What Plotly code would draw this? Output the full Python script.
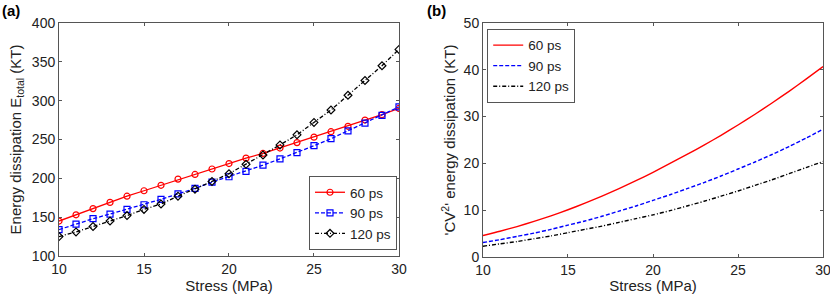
import plotly.graph_objects as go

stress = list(range(10, 31))
labels = ["60 ps", "90 ps", "120 ps"]

a_60 = [145, 153, 161, 169, 177, 184, 191, 199, 205, 212, 219, 226, 232, 239, 246, 253, 260, 267, 275, 282, 290]
a_90 = [134, 141, 148, 154, 160, 166, 173, 180, 187, 195, 202, 209, 217, 225, 233, 242, 251, 261, 271, 281, 292]
a_120 = [125, 131, 138, 145, 152, 160, 167, 177, 186, 196, 206, 218, 230, 243, 256, 272, 288, 307, 326, 345, 366]

b_60 = [4.6, 5.5, 6.5, 7.6, 8.8, 10.1, 11.5, 13.0, 14.6, 16.3, 18.1, 20.0, 21.9, 23.9, 26.0, 28.2, 30.5, 32.9, 35.4, 38.0, 40.7]
b_90 = [3.1, 3.7, 4.4, 5.1, 5.9, 6.8, 7.7, 8.7, 9.8, 10.9, 12.1, 13.3, 14.6, 15.9, 17.3, 18.8, 20.3, 21.9, 23.6, 25.4, 27.3]
b_120 = [2.3, 2.8, 3.3, 3.9, 4.5, 5.2, 5.9, 6.6, 7.4, 8.2, 9.0, 9.9, 10.9, 11.9, 13.0, 14.1, 15.3, 16.5, 17.8, 19.1, 20.4]

colors = ["#ff0000", "#0000ff", "#000000"]
dashes = ["solid", "4px,2px", "4px,2px,1px,2px"]
symbols = ["circle-open", "square-open", "diamond-open"]

FONT = "Liberation Sans, Arial, sans-serif"
fig = go.Figure()

for ys, lab, c, d, s in zip([a_60, a_90, a_120], labels, colors, dashes, symbols):
    fig.add_trace(go.Scatter(x=stress, y=ys, name=lab, mode="lines+markers",
                             line=dict(color=c, dash=d, width=1.3),
                             marker=dict(symbol=s, size=6, color=c, line=dict(width=1.2, color=c)),
                             xaxis="x", yaxis="y", legend="legend"))

for ys, lab, c, d in zip([b_60, b_90, b_120], labels, colors, dashes):
    fig.add_trace(go.Scatter(x=stress, y=ys, name=lab, mode="lines",
                             line=dict(color=c, dash=d, width=1.4, shape="spline", smoothing=0.6),
                             xaxis="x2", yaxis="y2", legend="legend2"))

axis_common = dict(showline=True, linecolor="#555555", linewidth=1, mirror="ticks",
                   ticks="inside", ticklen=3, tickcolor="#555555", showgrid=False, zeroline=False,
                   automargin=False, ticklabeloverflow="allow",
                   tickfont=dict(size=14, color="#222222", family=FONT))

fig.update_layout(
    width=830, height=294,
    margin=dict(l=0, r=0, t=0, b=0, autoexpand=False),
    paper_bgcolor="white", plot_bgcolor="white",
    font=dict(family=FONT, size=14, color="#222222"),
    xaxis=dict(domain=[0.0711, 0.4807], range=[10, 30], tickvals=[10, 15, 20, 25, 30],
               title=dict(text="Stress (MPa)", standoff=0, font=dict(size=15)), anchor="y", **axis_common),
    yaxis=dict(domain=[0.1293, 0.9218], range=[100, 400], tickvals=[100, 150, 200, 250, 300, 350, 400],
               title=dict(text="Energy dissipation E<sub>total</sub> (KT)", standoff=6, font=dict(size=15)),
               anchor="x", **axis_common),
    xaxis2=dict(domain=[0.5819, 0.9916], range=[10, 30], tickvals=[10, 15, 20, 25, 30],
                title=dict(text="Stress (MPa)", standoff=0, font=dict(size=15)), anchor="y2", **axis_common),
    yaxis2=dict(domain=[0.1259, 0.9218], range=[0, 50], tickvals=[0, 10, 20, 30, 40, 50],
                title=dict(text="'CV<sup>2</sup>' energy dissipation (KT)", standoff=4, font=dict(size=15)),
                anchor="x2", **axis_common),
    legend=dict(x=0.4783, y=0.1497, xanchor="right", yanchor="bottom", bordercolor="#555555", borderwidth=1,
                bgcolor="white", font=dict(size=13.5), tracegroupgap=0, itemwidth=30),
    legend2=dict(x=0.587, y=0.902, xanchor="left", yanchor="top", bordercolor="#555555", borderwidth=1,
                 bgcolor="white", font=dict(size=13.5), tracegroupgap=0, itemwidth=30),
    annotations=[
        dict(text="<b>(a)</b>", x=0.0, y=1.0, xref="paper", yref="paper", xanchor="left", yanchor="top",
             showarrow=False, font=dict(size=15, color="black")),
        dict(text="<b>(b)</b>", x=0.512, y=1.0, xref="paper", yref="paper", xanchor="left", yanchor="top",
             showarrow=False, font=dict(size=15, color="black")),
    ],
    showlegend=True,
)

fig.write_html("out.html", config={"displayModeBar": False},
               post_script="document.body.style.margin='0px';document.body.style.overflow='hidden';")
